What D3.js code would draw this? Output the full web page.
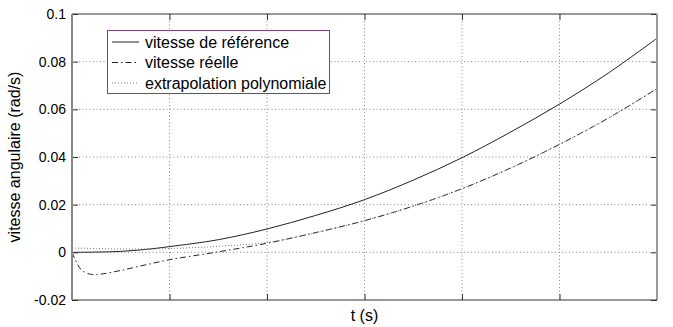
<!DOCTYPE html>
<html>
<head>
<meta charset="utf-8">
<script src="https://cdn.jsdelivr.net/npm/d3@7"></script>
<style>
  body { margin: 0; background: #fff; }
  text { font-family: "Liberation Sans", Arial, sans-serif; fill: #000; }
  .axis path { display: none; }
  .axis line { stroke: #333; }
  .grid line { stroke: #888; stroke-dasharray: 1,2.5; }
</style>
</head>
<body>
<script>
var width = 673,
    height = 327;

// time axis (no labels shown in the original)
var xTicks = [1, 2, 3, 4, 5];
var yTicks = [-0.02, 0, 0.02, 0.04, 0.06, 0.08, 0.1];
var yTickLabels = ["-0.02", "0", "0.02", "0.04", "0.06", "0.08", "0.1"];

// vitesse de référence
var tRef = [0, 0.25, 0.5, 0.75, 1, 1.5, 2, 2.5, 3, 3.5, 4, 4.5, 5, 5.5, 6];
var vRef = [0, 0.0001, 0.0004, 0.0012, 0.0024, 0.0053, 0.0098, 0.0155, 0.0221, 0.0303, 0.0397, 0.0505, 0.0622, 0.0752, 0.0898];

// vitesse réelle
var tReal = [0, 0.05, 0.1, 0.2, 0.3, 0.5, 0.75, 1, 1.5, 2, 2.5, 3, 3.5, 4, 4.5, 5, 5.5, 6];
var vReal = [0, -0.0045, -0.0075, -0.0093, -0.0091, -0.0076, -0.0053, -0.0031, 0.0002, 0.0038, 0.0083, 0.0133, 0.0194, 0.0267, 0.0354, 0.0453, 0.0563, 0.0687];

// extrapolation polynomiale
var tPoly = [0, 0.25, 0.5, 0.75, 1, 1.5, 2, 2.5, 3, 3.5, 4, 4.5, 5, 5.5, 6];
var vPoly = [0.0018, 0.0016, 0.0014, 0.0014, 0.0016, 0.0025, 0.0042, 0.0082, 0.0133, 0.0194, 0.0267, 0.0354, 0.0453, 0.0563, 0.0687];

var legendLabels = ["vitesse de référence", "vitesse réelle", "extrapolation polynomiale"];
var styles = [
    { dash: null, color: "#222" },
    { dash: "6,3,1.5,3", color: "#222" },
    { dash: "1,2", color: "#777" }
];

var pLeft = 72, pRight = 657, pTop = 14, pBottom = 300;

var x = d3.scaleLinear().domain([0, 6]).range([pLeft, pRight]);
var y = d3.scaleLinear().domain([-0.02, 0.1]).range([pBottom, pTop]);

var svg = d3.select("body").append("svg")
    .attr("width", width)
    .attr("height", height);

//Grid
var grid = svg.append("g").attr("class", "grid");
grid.selectAll("line.gx")
    .data(xTicks)
    .enter().append("line")
    .attr("x1", function (d) { return x(d); })
    .attr("x2", function (d) { return x(d); })
    .attr("y1", pTop)
    .attr("y2", pBottom);
grid.selectAll("line.gy")
    .data(yTicks.slice(1, -1))
    .enter().append("line")
    .attr("x1", pLeft)
    .attr("x2", pRight)
    .attr("y1", function (d) { return y(d); })
    .attr("y2", function (d) { return y(d); });

//Curves
var series = [[tRef, vRef], [tReal, vReal], [tPoly, vPoly]];
var line = d3.line()
    .x(function (d) { return x(d[0]); })
    .y(function (d) { return y(d[1]); })
    .curve(d3.curveCatmullRom.alpha(0.5));

series.forEach(function (s, i) {
    var pts = s[0].map(function (t, j) { return [t, s[1][j]]; });
    svg.append("path")
        .datum(pts)
        .attr("d", line)
        .attr("fill", "none")
        .attr("stroke", styles[i].color)
        .attr("stroke-width", 1)
        .attr("stroke-dasharray", styles[i].dash);
});

//Axes with inner ticks
svg.append("g").attr("class", "axis")
    .attr("transform", "translate(" + pLeft + ",0)")
    .call(d3.axisLeft(y).tickValues(yTicks).tickSize(-6).tickPadding(6)
        .tickFormat(function (d, i) { return yTickLabels[i]; }))
    .selectAll("text")
    .style("font-size", "14px")
    .style("font-family", "'Liberation Sans', Arial, sans-serif");

svg.append("g").attr("class", "axis")
    .attr("transform", "translate(" + pRight + ",0)")
    .call(d3.axisRight(y).tickValues(yTicks).tickSize(-6).tickFormat(""));

svg.append("g").attr("class", "axis")
    .attr("transform", "translate(0," + pBottom + ")")
    .call(d3.axisBottom(x).tickValues(xTicks).tickSize(-6).tickFormat(""));

svg.append("g").attr("class", "axis")
    .attr("transform", "translate(0," + pTop + ")")
    .call(d3.axisTop(x).tickValues(xTicks).tickSize(-6).tickFormat(""));

//Frame
svg.append("line").attr("x1", pLeft).attr("x2", pRight).attr("y1", pTop).attr("y2", pTop)
    .attr("stroke", "#333");
svg.append("line").attr("x1", pLeft).attr("x2", pRight).attr("y1", pBottom).attr("y2", pBottom)
    .attr("stroke", "#333");
svg.append("line").attr("x1", pLeft).attr("x2", pLeft).attr("y1", pTop).attr("y2", pBottom)
    .attr("stroke", "#888").attr("stroke-width", 2);
svg.append("line").attr("x1", pRight).attr("x2", pRight).attr("y1", pTop).attr("y2", pBottom)
    .attr("stroke", "#999").attr("stroke-width", 2);

//Labels
svg.append("text")
    .attr("x", (pLeft + pRight) / 2)
    .attr("y", 321)
    .attr("text-anchor", "middle")
    .style("font-size", "16px")
    .text("t (s)");

svg.append("text")
    .attr("transform", "translate(20," + ((pTop + pBottom) / 2) + ") rotate(-90)")
    .attr("text-anchor", "middle")
    .style("font-size", "16px")
    .text("vitesse angulaire (rad/s)");

//Legend
var legend = svg.append("g");
legend.append("rect")
    .attr("x", 107.5).attr("y", 30.5)
    .attr("width", 222).attr("height", 63)
    .attr("fill", "#fff")
    .attr("stroke", "#804080");

legendLabels.forEach(function (lab, i) {
    var ly = 42 + i * 20.5;
    legend.append("line")
        .attr("x1", 112).attr("x2", 139)
        .attr("y1", ly).attr("y2", ly)
        .attr("stroke", styles[i].color)
        .attr("stroke-dasharray", styles[i].dash);
    legend.append("text")
        .attr("x", 145).attr("y", ly + 5.5)
        .style("font-size", "16px")
        .text(lab);
});
</script>
</body>
</html>
